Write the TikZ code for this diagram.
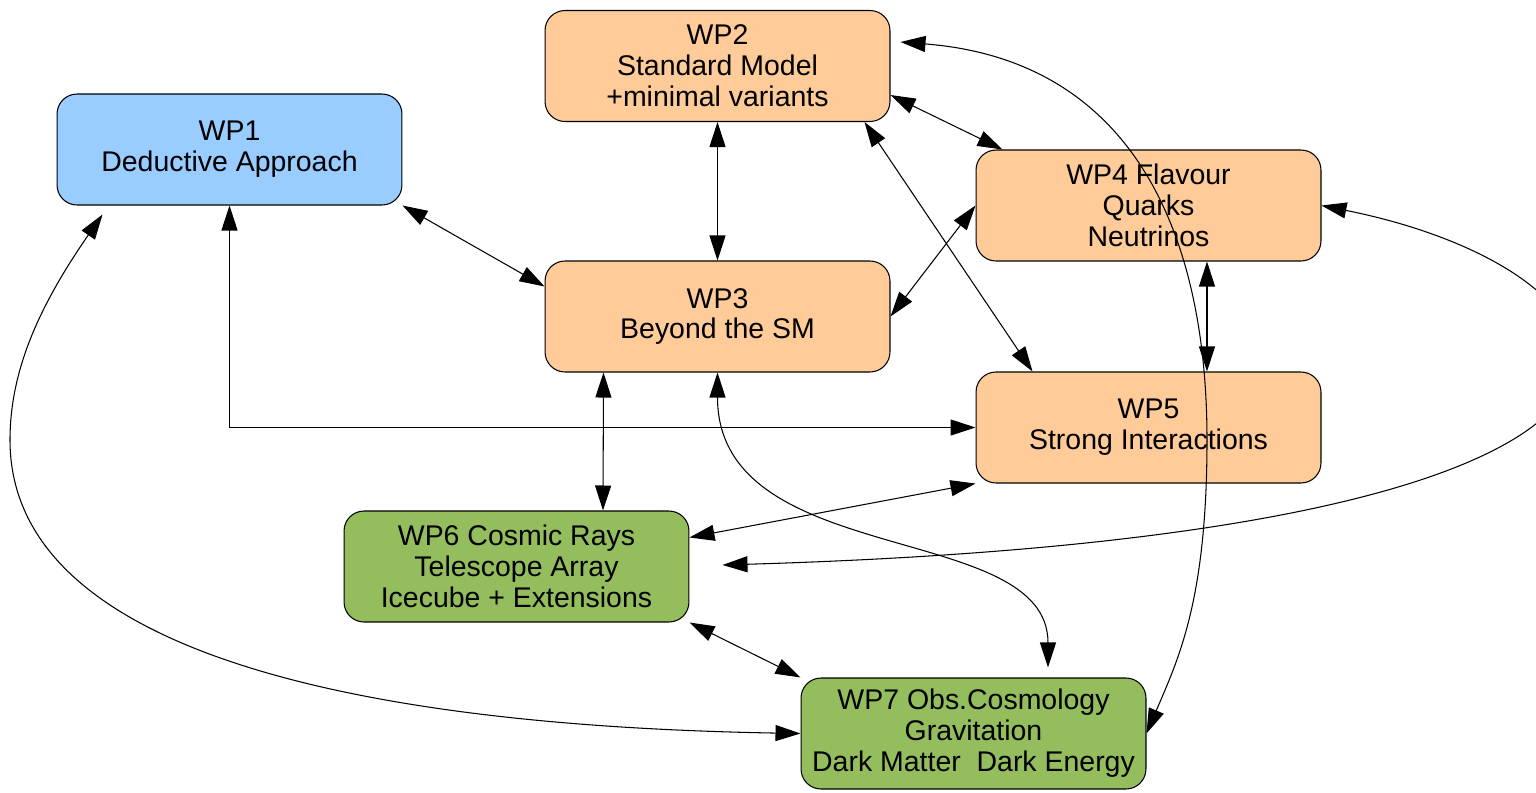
\documentclass[tikz,border=0pt]{standalone}
\usepackage{fontspec}
\setmainfont{Liberation Sans}
\definecolor{myblue}{RGB}{153,204,255}
\definecolor{myorange}{RGB}{255,204,153}
\definecolor{mygreen}{RGB}{148,189,94}
\usetikzlibrary{arrows.meta,positioning,calc}

\begin{document}
\begin{tikzpicture}[x=0.02cm,y=-0.02cm,
    every node/.style={draw,rounded corners=0.4cm,minimum width=6.9cm,minimum height=2.22cm,
        align=center,inner sep=0pt,line width=0.6pt,font=\fontsize{16.2}{17.6}\selectfont},
    wpnode/.style={fill=myblue},
    thnode/.style={fill=myorange},
    obnode/.style={fill=mygreen},
    link/.style={line width=0.6pt,{Triangle[length=0.5cm,width=0.32cm]}-{Triangle[length=0.5cm,width=0.32cm]}}
    ]
    \useasboundingbox (0,0) rectangle (1536,792);

    \node (wp1) [wpnode] at (229.5,149.5) {WP1\\Deductive Approach};
    \node (wp2) [thnode] at (717.5,66) {WP2\\Standard Model\\+minimal variants};
    \node (wp3) [thnode] at (717.5,316.5) {WP3\\Beyond the SM};
    \node (wp4) [thnode] at (1148.5,205.5) {WP4 Flavour\\Quarks\\Neutrinos};
    \node (wp5) [thnode] at (1148.5,427.5) {WP5\\Strong Interactions};
    \node (wp6) [obnode] at (516.5,566.5) {WP6 Cosmic Rays\\Telescope Array\\Icecube + Extensions};
    \node (wp7) [obnode] at (973.5,733.5) {WP7 Obs.Cosmology\\Gravitation\\Dark Matter\ \ Dark Energy};

    % the straight links
    \draw[link] (wp2.south) -- (wp3.north);
    \draw[link] (wp1.south east) -- ($(wp3.north west)+(0,26)$);
    \draw[link] ($(wp2.south east)+(0,-27)$) -- ($(wp4.north west)+(27,0)$);
    \draw[link] (wp3.east) -- (wp4.west);
    \draw[link] ($(wp2.south east)+(-26,0)$) -- ($(wp5.north west)+(57,0)$);
    \draw[link] ($(wp4.south)+(58.5,0)$) -- ($(wp5.north)+(58.5,0)$);
    \draw[link] (wp1.south) |- (wp5.west);
    \draw[link] ($(wp3.south)+(-114,0)$) -- ($(wp6.north)+(86.5,0)$);
    \draw[link] (wp5.south west) -- ($(wp6.north east)+(0,27)$);
    \draw[link] (wp6.south east) -- (wp7.north west);

    % the curved links
    \draw[link] (wp4.east) .. controls +(340,68) and +(1080,-32) .. ($(wp6.east)+(33,-1.5)$);
    \draw[link] (wp3.south) .. controls +(0,198) and +(0,-148) .. ($(wp7.north)+(74.5,-10)$);
    \draw[link] ($(wp2.east)+(10,-24)$) .. controls +(230,18) and +(0,-210) .. (1207,440)
        .. controls +(0,160) and +(32,-75) .. (wp7.east);
    \draw[link] ($(wp1.south west)+(46,9)$) .. controls +(-63,91) and +(0,-70) .. (10,440)
        .. controls +(0,200) and +(-481,-8.5) .. (wp7.west);
\end{tikzpicture}
\end{document}
